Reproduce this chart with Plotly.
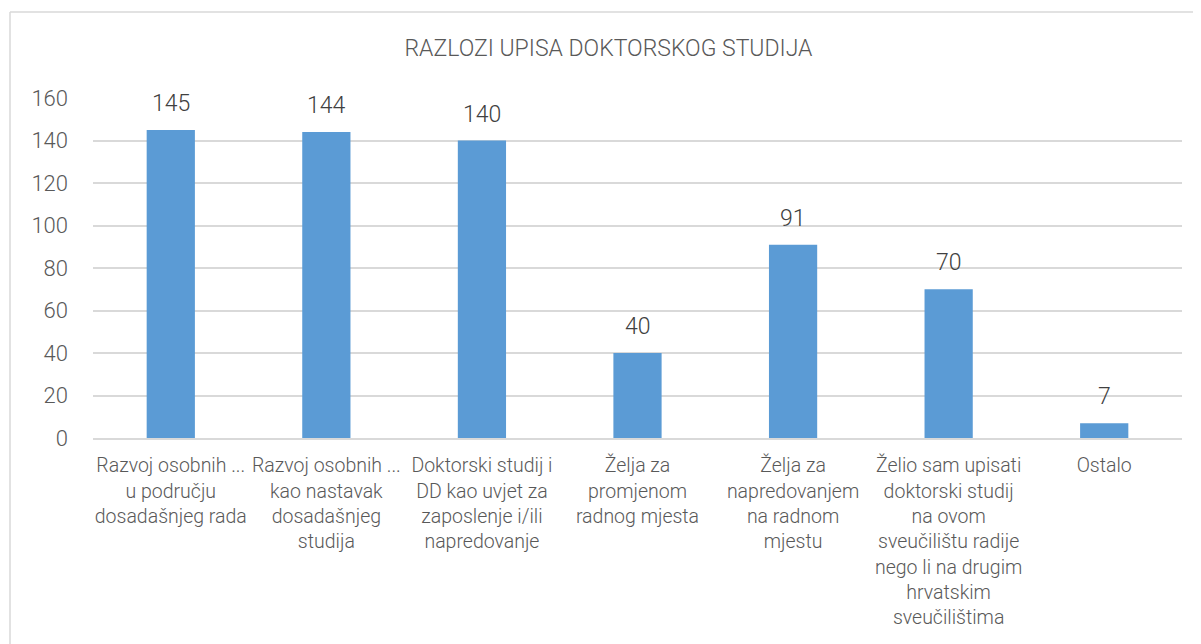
import plotly.graph_objects as go

categories = [
    "Razvoj osobnih ...<br>u području<br>dosadašnjeg rada",
    "Razvoj osobnih ...<br>kao nastavak<br>dosadašnjeg<br>studija",
    "Doktorski studij i<br>DD kao uvjet za<br>zaposlenje i/ili<br>napredovanje",
    "Želja za<br>promjenom<br>radnog mjesta",
    "Želja za<br>napredovanjem<br>na radnom<br>mjestu",
    "Želio sam upisati<br>doktorski studij<br>na ovom<br>sveučilištu radije<br>nego li na drugim<br>hrvatskim<br>sveučilištima",
    "Ostalo",
]
values = [145, 144, 140, 40, 91, 70, 7]
y_ticks = [0, 20, 40, 60, 80, 100, 120, 140, 160]

FONT = "Roboto"
TXT = "#595959"

fig = go.Figure()
fig.add_trace(go.Bar(
    x=categories, y=values,
    marker=dict(color="#5B9BD5", line=dict(width=0)),
    width=0.31,
    hoverinfo="skip",
))

for c, v in zip(categories, values):
    fig.add_annotation(x=c, y=v, text=str(v), showarrow=False,
                       yanchor="bottom", yshift=11,
                       font=dict(family=FONT, size=23, weight=300, color="#404040"))

OFF = 8  # page offset of the plot div
W, H = 1201, 644
L, R, T = 93 - OFF, 1201 - (1182 - OFF), 98 - OFF
B = H - (438 - OFF)
pw, ph = W - L - R, H - T - B

def px(x):
    return (x - OFF - L) / pw

def py(y):
    return (H - B - (y - OFF)) / ph

# chart border (left and top visible)
fig.add_shape(type="line", xref="paper", yref="paper",
              x0=px(10), x1=px(10), y0=py(12), y1=py(700),
              line=dict(color="#d9d9d9", width=1.5))
fig.add_shape(type="line", xref="paper", yref="paper",
              x0=px(10), x1=px(1250), y0=py(12), y1=py(12),
              line=dict(color="#d9d9d9", width=1.5))

fig.update_layout(
    width=W, height=H,
    margin=dict(l=L, r=R, t=T, b=B),
    paper_bgcolor="white", plot_bgcolor="white",
    showlegend=False,
    title=dict(text="RAZLOZI UPISA DOKTORSKOG STUDIJA", x=0.5, xref="container",
               y=1 - (48 - OFF) / H, yanchor="middle",
               font=dict(family=FONT, size=23, weight=300, color=TXT)),
    font=dict(family=FONT, color=TXT),
    xaxis=dict(showgrid=False, showline=True, linecolor="#d9d9d9", linewidth=1.5,
               ticks="", tickfont=dict(family=FONT, size=19.5, weight=300, color=TXT),
               tickangle=0, ticklabelstandoff=9),
    yaxis=dict(range=[0, 160], tickvals=y_ticks, showgrid=True, gridcolor="#d9d9d9",
               gridwidth=1.5, zeroline=False, showline=False,
               tickfont=dict(family=FONT, size=22, weight=300, color=TXT),
               ticklabelstandoff=24),
)

fig.write_html("out.html")
